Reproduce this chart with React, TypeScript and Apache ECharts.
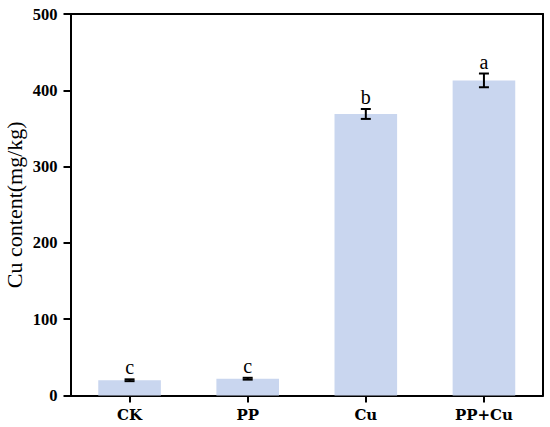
import React, { useEffect, useRef } from "react";
import * as echarts from "echarts";

const categories = ["CK", "PP", "Cu", "PP+Cu"];
const values = [20, 22, 369, 413];
const errors = [1.2, 1.2, 6.5, 9];
const letters = ["c", "c", "b", "a"];
const yTicks = [0, 100, 200, 300, 400, 500];

const FONT = "'Liberation Serif', 'Times New Roman', serif";
const XFONT = "'DejaVu Serif', 'Liberation Serif', serif";

export default function App() {
  const ref = useRef<HTMLDivElement>(null);
  useEffect(() => {
    if (!ref.current) return;
    const chart = echarts.init(ref.current, undefined, { renderer: "svg" });
    const errData = values.map((v, i) => [i, v, errors[i]]);
    chart.setOption({
      animation: false,
      backgroundColor: "#ffffff",
      grid: { left: 70.5, right: 7, top: 14, bottom: 31.5, containLabel: false, outerBoundsMode: "none" },
      xAxis: [
        {
          type: "category",
          data: categories,
          axisLine: { show: true, lineStyle: { color: "#000", width: 2 } },
          axisTick: { show: true, alignWithLabel: true, length: 7, lineStyle: { color: "#000", width: 2 } },
          axisLabel: { color: "#000", fontFamily: XFONT, fontWeight: "bold", fontSize: 15, margin: 12 },
        },
        {
          type: "category",
          data: categories,
          position: "top",
          axisLine: { show: true, onZero: false, lineStyle: { color: "#000", width: 2 } },
          axisTick: { show: false },
          axisLabel: { show: false },
        },
      ],
      yAxis: [
        {
          type: "value",
          min: yTicks[0],
          max: yTicks[yTicks.length - 1],
          interval: 100,
          name: "Cu content(mg/kg)",
          nameLocation: "middle",
          nameGap: 45,
          nameMoveOverlap: false,
          nameTextStyle: { color: "#000", fontFamily: FONT, fontSize: 22 },
          axisLine: { show: true, lineStyle: { color: "#000", width: 2 } },
          axisTick: { show: true, length: 7, lineStyle: { color: "#000", width: 2 } },
          axisLabel: { color: "#000", fontFamily: FONT, fontWeight: "bold", fontSize: 16.5, margin: 13 },
          splitLine: { show: false },
        },
        {
          type: "value",
          min: yTicks[0],
          max: yTicks[yTicks.length - 1],
          interval: 100,
          position: "right",
          axisLine: { show: true, lineStyle: { color: "#000", width: 2 } },
          axisTick: { show: false },
          axisLabel: { show: false },
          splitLine: { show: false },
        },
      ],
      series: [
        {
          type: "bar",
          data: values,
          barWidth: "53%",
          itemStyle: { color: "#c9d6ef" },
        },
        {
          type: "custom",
          data: errData,
          z: 5,
          renderItem: (params: any, api: any) => {
            const x = api.value(0);
            const v = api.value(1);
            const e = api.value(2);
            const letter = letters[params.dataIndex];
            const top = api.coord([x, v + e]);
            const bot = api.coord([x, v - e]);
            const cap = 5;
            const style = { stroke: "#000", lineWidth: 2 };
            return {
              type: "group",
              children: [
                { type: "line", shape: { x1: top[0], y1: top[1], x2: bot[0], y2: bot[1] }, style },
                { type: "line", shape: { x1: top[0] - cap, y1: top[1], x2: top[0] + cap, y2: top[1] }, style },
                { type: "line", shape: { x1: bot[0] - cap, y1: bot[1], x2: bot[0] + cap, y2: bot[1] }, style },
                {
                  type: "text",
                  x: top[0],
                  y: top[1] - 2,
                  style: {
                    text: letter,
                    fill: "#000",
                    font: `20px ${FONT}`,
                    align: "center",
                    verticalAlign: "bottom",
                  },
                },
              ],
            };
          },
        },
      ],
    });
    return () => chart.dispose();
  }, []);
  return <div ref={ref} style={{ width: 550, height: 427, position: "absolute", left: 0, top: 0 }} />;
}
